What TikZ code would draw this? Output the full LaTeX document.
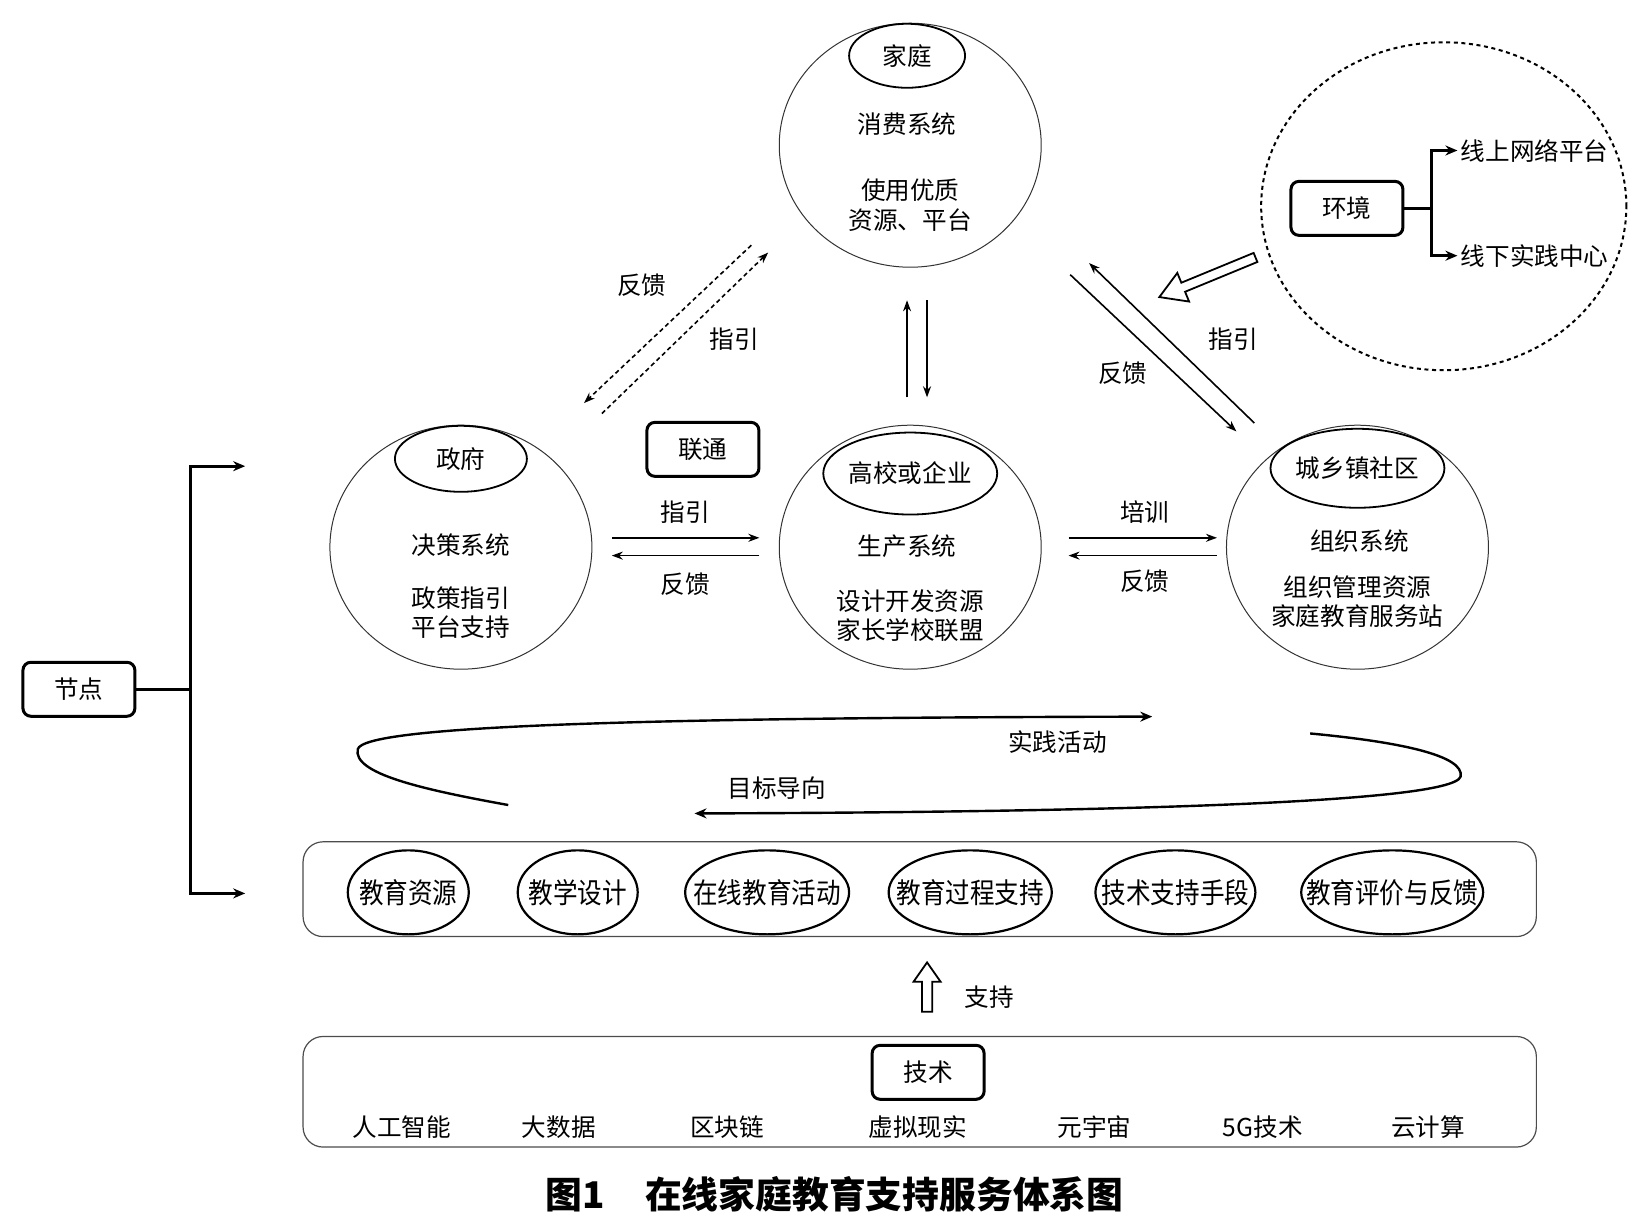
\documentclass[tikz,border=0pt]{standalone}
\usepackage{fontspec}
\usepackage{graphicx}
\newfontfamily\cjk{Noto Sans CJK SC}
\newcommand\tallname[1]{\makebox[0pt]{\scalebox{1}[1.15]{#1}}}
\usetikzlibrary{shapes.geometric,shapes.arrows,arrows.meta,positioning}

\begin{document}
\begin{tikzpicture}[
    x=0.5262pt, y=-0.5262pt,
    font=\cjk\fontsize{12.3pt}{14.7pt}\selectfont,
    system/.style={draw=black!80, line width=0.5pt, ellipse, minimum width=131pt, minimum height=122pt, inner sep=0pt},
    actor/.style={draw, line width=0.9pt, ellipse, inner sep=0pt},
    note/.style={align=center, inner sep=0pt},
    box/.style={draw, line width=1.5pt, rounded corners=4pt, minimum width=56pt, minimum height=27pt},
    panel/.style={draw=black!70, line width=0.6pt, rounded corners=10pt, minimum width=616.7pt},
    topic/.style={draw, line width=1.1pt, ellipse, minimum height=42pt, inner sep=0pt},
    arrow/.style={-{Stealth[length=5.5pt, width=4pt]}, line width=0.8pt},
    dasharrow/.style={arrow, dash pattern=on 2.2pt off 1.6pt},
    fork/.style={line width=1.4pt},
    forkarrow/.style={fork, -{Stealth[length=6pt, width=5pt]}},
    looparrow/.style={-{Stealth[length=6pt, width=5pt]}, line width=1.2pt},
    hollow/.style={draw, line width=0.9pt, single arrow, fill=white, outer sep=0pt},
]
\useasboundingbox (0,0) rectangle (1568,1164);

% four systems
\node[system] (fam) at (865,138) {};
\node[actor, minimum width=58pt, minimum height=32pt] (famtag) at (862,53) {家庭};
\node[note] (famsys) at (862,118) {消费系统};
\node[note] (famres) at (865,195) {使用优质\\资源、平台};

\node[system] (gov) at (438,520) {};
\node[actor, minimum width=66pt, minimum height=33pt] (govtag) at (438,436) {政府};
\node[note] (govsys) at (438,518) {决策系统};
\node[note] (govres) at (438,582) {政策指引\\平台支持};

\node[system] (col) at (865,520) {};
\node[actor, minimum width=84pt, minimum height=41pt] (coltag) at (865,450) {高校或企业};
\node[note] (colsys) at (862,519) {生产系统};
\node[note] (colres) at (865,585) {设计开发资源\\家长学校联盟};

\node[system] (com) at (1290,520) {};
\node[actor, minimum width=76pt, minimum height=39.5pt] (comtag) at (1290,445) {城乡镇社区};
\node[note] (comsys) at (1292,514) {组织系统};
\node[note] (comres) at (1290,572) {组织管理资源\\家庭教育服务站};

\node[box] (link) at (668,427) {联通};

% links between systems
\draw[arrow, shorten <=9.7pt, shorten >=9.7pt] ([yshift=4.7pt]gov.east) -- node[note, above=7pt] {指引} ([yshift=4.7pt]col.west);
\draw[arrow, shorten <=9.7pt, shorten >=9.7pt] ([yshift=-4.2pt]col.west) -- node[note, below=8pt] {反馈} ([yshift=-4.2pt]gov.east);
\draw[arrow, shorten <=13.4pt, shorten >=4.5pt] ([yshift=4.7pt]col.east) -- node[note, above=7pt, xshift=5.5pt] {培训} ([yshift=4.7pt]com.west);
\draw[arrow, shorten <=4.5pt, shorten >=13.4pt] ([yshift=-4.2pt]com.west) -- node[note, below=6.5pt, xshift=5.5pt] {反馈} ([yshift=-4.2pt]col.east);
\draw[arrow, shorten <=13.7pt, shorten >=16.3pt] ([xshift=-1.6pt]col.north) -- ([xshift=-1.6pt]fam.south);
\draw[arrow, shorten <=16.3pt, shorten >=13.7pt] ([xshift=8.4pt]fam.south) -- ([xshift=8.4pt]col.north);

\coordinate (fbA) at (714,233);
\coordinate (fbB) at (555,383);
\coordinate (guA) at (572,393);
\coordinate (guB) at (730,240);
\draw[dasharrow] (fbA) -- (fbB);
\draw[dasharrow] (guA) -- (guB);
\node[note] (fbleft) at (610,271) {反馈};
\node[note] (guleft) at (698,322) {指引};

\coordinate (fbC) at (1017,261);
\coordinate (fbD) at (1175,410);
\coordinate (guC) at (1192,402);
\coordinate (guD) at (1035,250);
\draw[arrow] (fbC) -- (fbD);
\draw[arrow] (guC) -- (guD);
\node[note] (fbright) at (1067,355) {反馈};
\node[note] (guright) at (1172,322) {指引};

% environment
\node[draw, ellipse, line width=1pt, dash pattern=on 2pt off 1.8pt, minimum width=182.6pt, minimum height=164pt] (envzone) at (1372,196) {};
\node[box] (env) at (1280,198) {环境};
\node[note, anchor=west, inner sep=1.5pt] (online) at (1385,143) {线上网络平台};
\node[note, anchor=west, inner sep=1.5pt] (offline) at (1385,243) {线下实践中心};
\coordinate (envfork) at (1360,198);
\draw[fork] (env.east) -- (envfork);
\draw[forkarrow] (envfork) |- (online.west);
\draw[forkarrow] (envfork) |- (offline.west);
\node[hollow, minimum height=52pt, single arrow head extend=5.3pt, single arrow tip angle=62, inner sep=2pt, rotate=202.4] (envpush) at (1151,262) {};

% nodes
\node[box] (nodes) at (75,655) {节点};
\coordinate (nodefork) at (181,655);
\coordinate (nodeup) at (233,443);
\coordinate (nodedown) at (233,849);
\draw[fork] (nodes.east) -- (nodefork);
\draw[forkarrow] (nodefork) |- (nodeup);
\draw[forkarrow] (nodefork) |- (nodedown);

% loop
\coordinate (practiceS) at (483,765);
\coordinate (practiceE) at (1095,681);
\coordinate (goalS) at (1245,697);
\coordinate (goalE) at (660,773);
\draw[looparrow] (practiceS) .. controls (400,750) and (335,735) .. (340,712) .. controls (345,690) and (600,682) .. (practiceE);
\draw[looparrow] (goalS) .. controls (1330,705) and (1392,718) .. (1388,738) .. controls (1380,765) and (1000,772) .. (goalE);
\node[note] (practice) at (1005,705) {实践活动};
\node[note] (goal) at (738,749) {目标导向};

% process
\node[panel, minimum height=47.4pt] (process) at (874,845) {};
\node[topic, minimum width=60.5pt] (resource) at (388,848) {\tallname{教育资源}};
\node[topic, minimum width=60pt] (design) at (549,848) {\tallname{教学设计}};
\node[topic, minimum width=82pt] (activity) at (729,848) {\tallname{在线教育活动}};
\node[topic, minimum width=81.6pt] (support) at (922,848) {\tallname{教育过程支持}};
\node[topic, minimum width=80pt] (means) at (1117,848) {\tallname{技术支持手段}};
\node[topic, minimum width=91pt] (evaluate) at (1323,848) {\tallname{教育评价与反馈}};

\node[hollow, minimum height=24.7pt, single arrow head extend=4.2pt, single arrow tip angle=70, inner sep=2.1pt, rotate=90] (suparrow) at (881,941.5) {};
\node[note] (suplabel) at (940,948) {支持};

% technology
\node[panel, minimum height=55.3pt] (techpanel) at (874,1037.5) {};
\node[box] (tech) at (882,1019) {技术};
\node[note] (ai) at (382,1071) {人工智能};
\node[note] (bigdata) at (531,1071) {大数据};
\node[note] (chain) at (691,1071) {区块链};
\node[note] (vr) at (872,1071) {虚拟现实};
\node[note] (meta) at (1040,1071) {元宇宙};
\node[note] (fiveg) at (1200,1071) {5G技术};
\node[note] (cloud) at (1357,1071) {云计算};

\node[note, font=\cjk\bfseries\fontsize{18.4pt}{21pt}\selectfont] (title) at (793,1135) {图1\hspace{1.1em}在线家庭教育支持服务体系图};
\end{tikzpicture}
\end{document}
